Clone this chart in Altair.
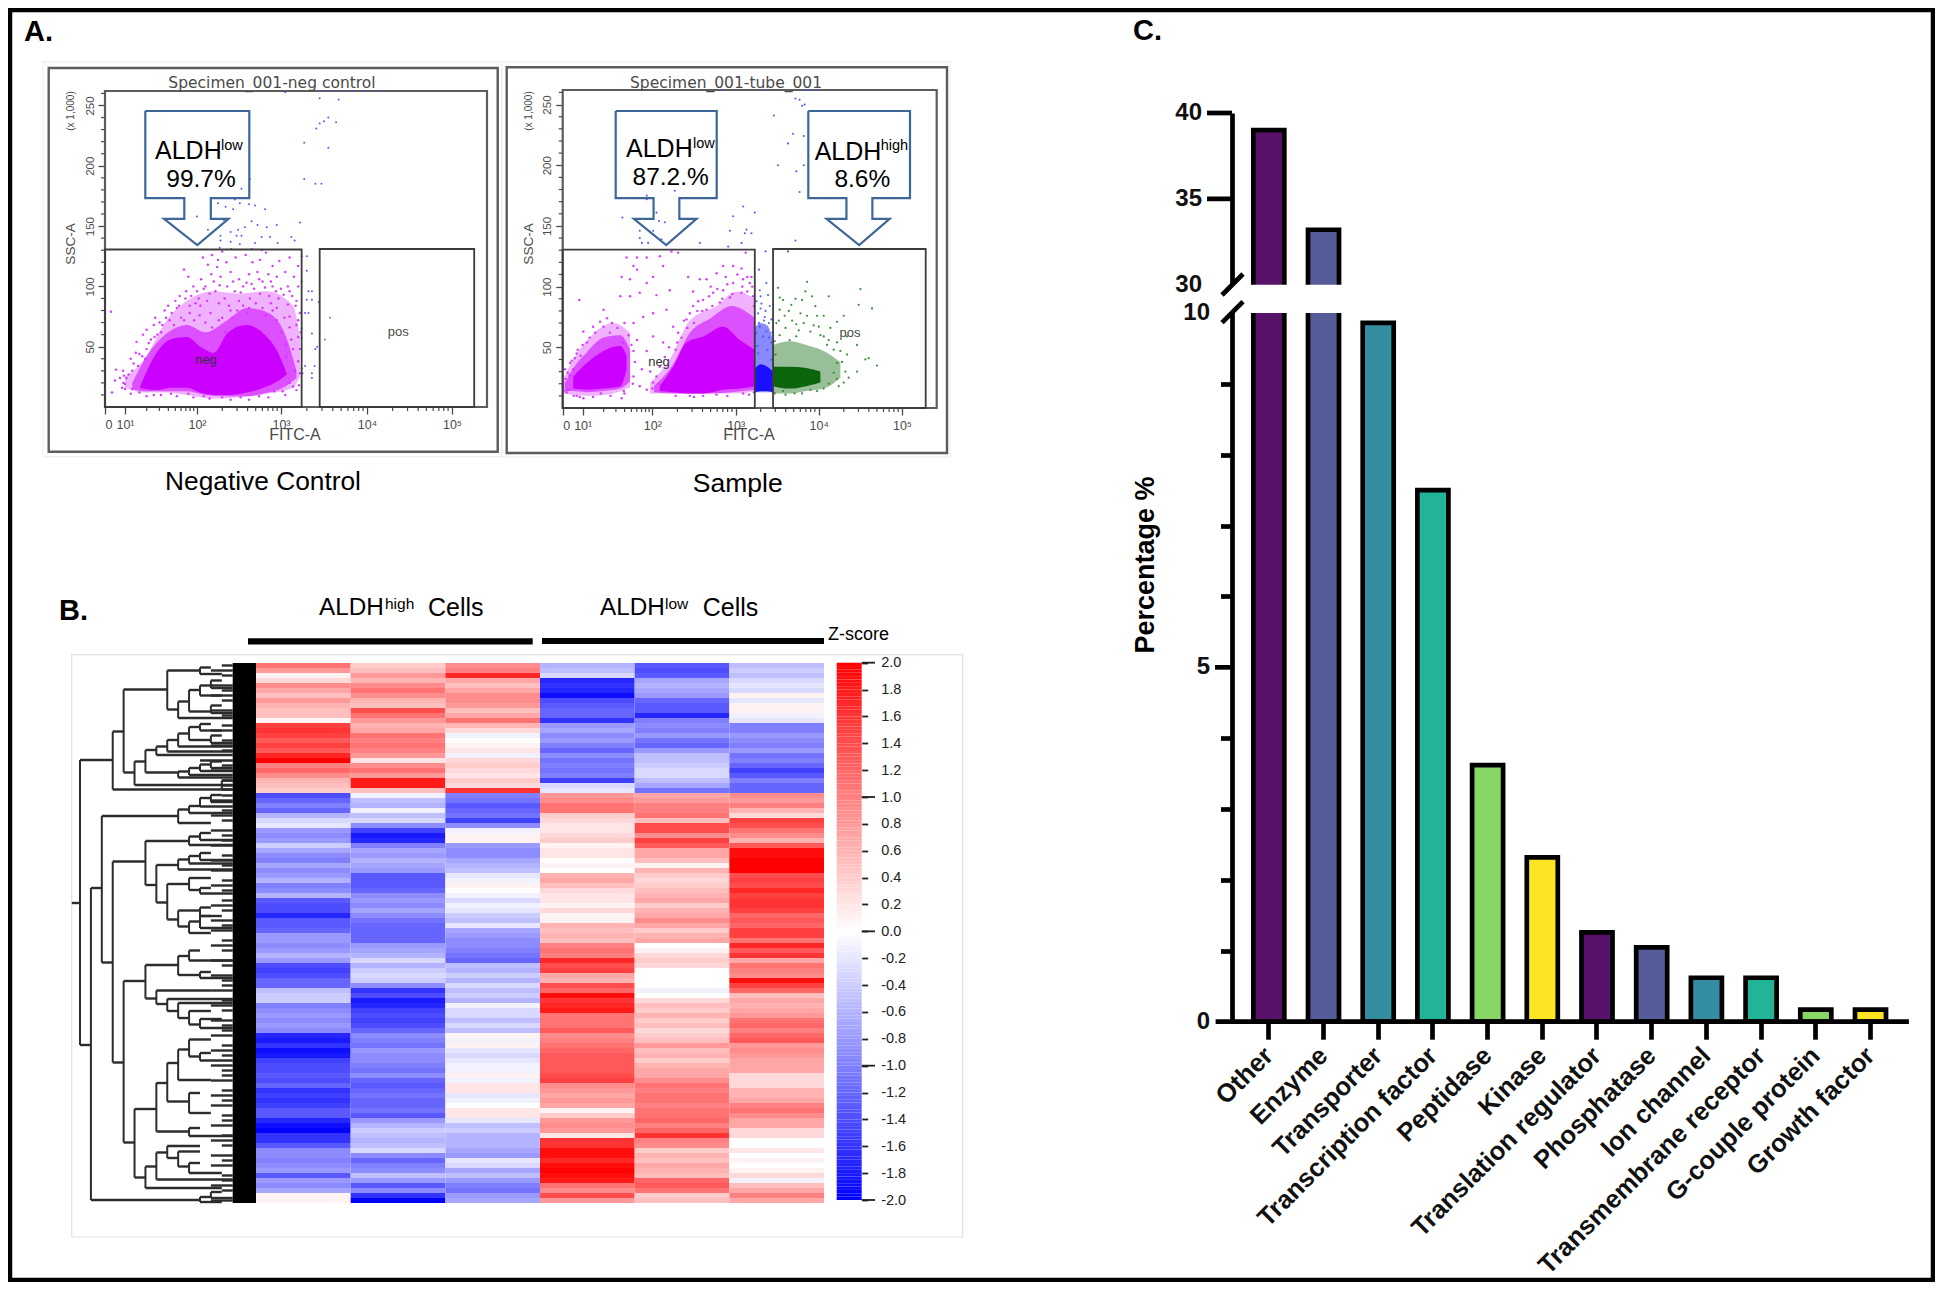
import math
import altair as alt
import pandas as pd

OFF = 8
def px(v):
    return v - OFF

FONT = "Liberation Sans"
WIDE = "DejaVu Sans"

# ---------- Panel A: values (FITC decade, SSC in thousands) ----------
DEC = [0, 1, 2, 3, 4, 5, 5.41]
SSC_DOM = [0, 262]
A1_X_PX = [105, 125, 197, 281, 367, 452, 487]
A2_X_PX = [562.7, 582.7, 652.3, 735.7, 818.7, 902, 936.7]

A1_BLUE = [(3.05,261),(3.45,262),(3.57,262),(3.69,262),(3.84,262),(3.96,262),(4.14,262),(3.67,255),(3.45,256),(3.55,240),(3.5,237),(3.45,235),(3.41,231),(3.64,236),(3.27,219),(3.55,215),(3.27,189),(3.4,185),(3.47,185),(2.63,189),(2.53,181),(2.45,172),(2.51,169),(2.62,168),(2.69,167),(2.81,164),(2.25,169),(2.34,166),(2.43,164),(2.0,158),(3.22,153),(2.95,151),(2.83,149),(2.72,151),(2.65,154),(2.57,149),(2.49,147),(2.32,155),(2.13,147),(2.28,142),(2.4,145),(2.47,142),(2.53,142),(2.77,141),(2.87,141),(3.12,141),(3.16,138),(2.96,136),(2.69,136),(2.28,138),(2.4,137),(2.51,135),(2.27,132),(2.41,131),(2.65,131),(2.77,130),(3.24,125),(3.3,125),(3.24,104),(3.3,113),(3.32,96),(3.36,96),(3.3,89),(3.36,89),(3.44,87),(3.28,78),(3.32,78),(3.24,65),(3.24,57),(3.36,61),(3.42,50),(3.4,48),(3.24,32),(3.28,34),(3.39,34),(3.36,28),(3.36,24),(3.25,28)]
A1_GREEN = [(3.57,74),(3.51,56)]
A1_PINK = [(2.07,124),(2.13,118),(2.18,126),(2.25,122),(2.3,129),(2.24,116),(2.35,120),(2.46,124),(2.58,126),(2.66,120),(2.75,122),(2.82,128),(2.9,117),(2.98,121),(3.1,124),(3.2,117),(3.15,108),(3.05,112),(2.95,108),(2.85,110),(2.72,112),(2.62,110),(2.5,106),(2.4,112),(2.28,108),(2.17,110),(2.05,106),(1.95,100),(1.82,114),(1.88,108),(2.0,96),(2.1,100),(2.22,96),(2.33,90),(2.45,96),(2.55,100),(2.65,102),(2.78,104),(2.9,100),(3.0,98),(3.1,96),(3.2,100),(3.18,88),(3.08,85),(2.97,90),(2.86,92),(2.75,94),(2.63,90),(2.5,88),(2.38,84),(2.26,86),(2.12,88),(1.98,86),(1.84,90),(1.72,82),(1.78,74),(1.9,78),(2.03,76),(2.16,78),(2.3,74),(2.42,74),(1.62,72),(1.52,68),(1.45,60),(1.36,56),(1.3,48),(1.24,42),(1.18,34),(1.1,30),(1.02,24),(0.92,20),(0.85,16),(1.0,15),(1.08,11),(1.3,9),(1.5,10),(1.72,9),(1.95,8),(2.15,7),(2.4,6),(2.62,6),(2.85,8),(3.05,10),(3.18,14),(3.22,28),(3.2,38),(3.14,48),(3.2,58),(3.18,68),(3.1,75),(3.22,78),(0.3,79),(0.55,31),(0.35,12),(0.5,22),(0.75,24),(0.9,30),(1.15,45),(1.25,60),(1.4,68),(1.55,80),(3.0,62),(3.05,52),(2.95,72),(2.6,78),(2.9,80),(2.78,82),(2.48,80)]
A1_PINK2 = [(1.05,27),(1.12,36),(1.2,44),(1.28,40),(1.33,53),(1.41,58),(1.48,70),(1.57,74),(1.65,78),(1.7,88),(1.76,92),(1.85,96),(1.92,92),(2.02,90),(2.08,98),(2.15,94),(2.2,104),(2.27,101),(2.36,100),(2.43,104),(2.52,95),(2.59,103),(2.68,98),(2.74,106),(2.81,99),(2.88,104),(2.94,96),(3.03,93),(3.08,100),(3.13,92),(3.17,84),(3.2,72),(3.23,62),(3.22,48),(3.21,18),(3.14,17),(3.02,13),(2.92,13),(2.74,9),(2.52,8),(2.3,8),(2.08,9),(1.88,11),(1.64,11),(1.4,10),(1.2,12),(1.1,15),(1.0,19),(0.95,26),(1.08,40),(1.16,54),(1.3,64),(1.42,74),(1.5,62),(1.6,84),(1.68,68),(1.75,84),(1.82,72),(1.9,84),(1.96,72),(2.04,84),(2.1,70),(2.18,66),(2.26,72),(2.34,62),(2.4,80),(2.46,66),(2.55,84),(2.62,82),(2.7,86),(2.82,76),(2.88,86),(2.95,82),(3.04,74),(3.1,66),(3.12,56),(3.06,42),(3.16,30),(3.1,20),(3.0,30)]
A1_DENSE_X = [1.21,1.44,1.63,1.86,2.04,2.2,2.36,2.59,2.79,2.95,3.07]
A1_DENSE_TOP = [17,45,56,58,50,45,61,68,61,47,27]
A1_DENSE_BOT = [16,14,16,16,12,10,10,12,16,21,27]
A1_IN_X = [1.1,1.3,1.6,1.86,2.1,2.36,2.6,2.85,3.05,3.18]
A1_IN_TOP = [20,42,62,68,62,72,82,78,60,30]
A1_IN_BOT = [15,13,13,13,10,9,9,12,17,24]
A1_MID_X = [1,1.26,1.58,1.86,2.2,2.51,2.83,3.14,3.22]
A1_MID_TOP = [25,39,72,88,96,94,96,84,58]
A1_MID_BOT = [16,12,12,10,7,8,11,16,25]

A2_BLUE = [(2.83,262),(3.34,262),(3.83,262),(3.89,262),(3.98,262),(3.72,255),(3.77,254),(3.83,250),(3.8,249),(3.46,241),(3.69,226),(3.63,218),(3.82,224),(3.51,200),(3.82,200),(3.73,195),(3.77,178),(3.09,166),(3.23,161),(2.97,158),(1.57,157),(1.92,175),(1.92,172),(2.27,179),(2.05,161),(2.15,153),(2.08,154),(2.01,146),(1.82,146),(2.11,139),(1.82,140),(1.85,136),(1.94,136),(2.93,146),(3.13,147),(3.11,144),(3.19,144),(3.07,136),(2.57,136),(2.91,133),(3.72,138),(3.36,129),(3.28,114),(3.37,103),(3.29,97),(3.39,93),(3.31,86),(3.41,84),(3.27,78),(3.35,75),(3.43,73),(3.29,67),(3.37,63),(3.33,59),(3.43,54),(3.26,51),(3.38,48),(3.25,88),(3.3,92),(3.36,80),(3.4,70),(3.28,70),(3.44,62),(3.25,62),(3.34,72),(3.3,82),(3.4,58),(3.27,45),(3.43,40)]
A2_PINK = [(1.63,124),(1.78,124),(1.92,124),(1.73,117),(1.78,114),(1.56,108),(1.68,106),(2.09,125),(2.23,129),(2.31,128),(2.13,117),(2.01,108),(2.21,97),(2.05,93),(1.92,103),(1.82,95),(1.68,92),(1.54,92),(0.83,89),(1.3,81),(1.15,67),(1.01,63),(1.73,70),(1.87,75),(2.01,78),(2.17,81),(2.25,67),(2.01,59),(1.78,56),(1.92,47),(2.13,54),(2.85,117),(2.97,117),(3.07,115),(2.77,111),(2.65,106),(3.17,103),(3.09,106),(2.97,103),(2.85,97),(2.73,95),(2.61,89),(2.49,84),(2.41,73),(2.31,62),(3.21,92),(3.07,95),(2.93,91),(2.81,87),(2.65,81),(2.57,106),(2.49,96),(2.43,108),(3.12,128),(3.19,108),(0.12,32),(0.03,21),(0.28,15),(0.37,37),(0.7,10),(1.01,8),(1.26,12),(1.56,8),(1.59,14),(1.82,18),(1.92,15),(2.01,21),(1.73,26),(1.85,32),(1.97,30),(2.09,34),(0.53,32),(0.7,45),(1.06,54),(1.3,67),(1.39,62),(1.58,54),(1.73,47),(2.45,10),(2.77,11),(3.09,12),(2.61,10)]
A2_PINK2 = [(0.05,14),(0.15,24),(0.25,29),(0.35,27),(0.45,39),(0.6,41),(0.75,48),(0.9,43),(1.0,52),(1.1,58),(1.18,62),(1.25,71),(1.35,74),(1.42,70),(1.5,66),(1.6,70),(1.66,60),(1.7,52),(1.75,38),(1.72,20),(1.6,12),(1.4,10),(1.15,9),(0.85,9),(0.55,10),(0.2,13),(2.0,16),(2.05,26),(2.15,42),(2.2,50),(2.28,48),(2.35,58),(2.38,72),(2.45,78),(2.5,70),(2.55,88),(2.6,80),(2.68,92),(2.72,84),(2.78,98),(2.84,90),(2.9,102),(2.96,94),(3.02,110),(3.08,100),(3.14,96),(3.2,100),(3.22,84),(3.14,108),(2.88,108),(2.7,100),(2.54,80),(2.42,66),(2.3,54),(2.08,20),(2.28,10),(2.5,9),(2.9,10),(3.16,11),(3.22,13)]
A2_GREEN = [(3.53,91),(3.57,89),(3.63,129),(3.51,99),(3.67,85),(3.8,89),(3.84,96),(3.86,104),(3.92,92),(4.12,92),(4.5,98),(4.64,82),(4.48,85),(4.3,76),(4.22,71),(4.46,52),(4.34,59),(4.56,40),(4.7,35),(4.6,41),(4.46,30),(4.36,25),(4.3,21),(4.24,18),(4.06,16),(3.9,15),(3.71,12),(3.57,14),(3.49,70),(3.59,76),(3.73,69),(3.86,76),(4.0,67),(4.14,66),(4.06,76),(3.96,84),(3.78,78),(3.53,60),(4.06,59),(4.22,54),(4.26,47),(4.22,37),(4.34,44),(4.18,29),(3.53,81),(3.65,56),(3.73,59),(3.9,63),(4.1,52),(3.47,55),(3.48,44),(3.52,72),(3.6,66),(3.68,72),(3.76,64),(3.82,70),(3.94,68),(4.02,60),(4.12,56),(4.18,48),(4.28,38),(4.32,30),(4.22,24),(4.12,20),(3.98,14),(3.8,12),(3.6,11),(3.47,12),(3.64,80),(3.72,90),(3.98,76)]
A2_L_DENSE_X = [0.53,1.06,1.3,1.54,1.63]
A2_L_DENSE_TOP = [26,37,47,51,43]
A2_L_DENSE_BOT = [16,15,16,18,32]
A2_R_DENSE_X = [2.09,2.25,2.41,2.61,2.85,3.05,3.23]
A2_R_DENSE_TOP = [18,34,54,59,67,56,48]
A2_R_DENSE_BOT = [14,13,12,12,15,16,18]
A2_L_IN_X = [0.1,0.5,1.06,1.3,1.54,1.68]
A2_L_IN_TOP = [20,32,46,58,60,48]
A2_L_IN_BOT = [14,14,13,14,16,22]
A2_R_IN_X = [2.02,2.25,2.45,2.7,2.95,3.23]
A2_R_IN_TOP = [18,36,62,74,84,74]
A2_R_IN_BOT = [13,12,12,12,13,15]
A2_L_MID_X = [0,0.53,1.1,1.44,1.68]
A2_L_MID_TOP = [23,40,58,70,62]
A2_L_MID_BOT = [12,11,10,12,17]
A2_R_MID_X = [1.97,2.21,2.45,2.77,3.01,3.23]
A2_R_MID_TOP = [21,40,72,84,96,90]
A2_R_MID_BOT = [12,12,12,12,12,14]
A2_B_X = [3.23,3.3,3.38,3.45]
A2_B_DENSE_TOP = [32,36,34,30]
A2_B_DENSE_BOT = [13,14,14,13]
A2_B_MID_TOP = [66,70,68,56]
A2_B_MID_BOT = [13,13,13,13]
A2_G_DENSE_X = [3.45,3.65,3.85,4.02]
A2_G_DENSE_TOP = [34,34,33,30]
A2_G_DENSE_BOT = [18,16,18,21]
A2_G_MID_X = [3.45,3.65,3.85,4.06,4.26]
A2_G_MID_TOP = [52,55,52,47,38]
A2_G_MID_BOT = [12,12,14,16,25]

ARROW_X = [0,100,100,63,63,80,50,18,37.5,37.5,0,0]
ARROW_Y = [0,0,65,65,80.5,80.5,100,80.5,80.5,65,65,0]

# ---------- Panel B: Z-score in tenths, per row ----------
H1 = [11,8,1,3,9,7,5,8,6,5,5,1,15,16,15,13,15,13,17,20,10,12,9,6,5,4,
      -14,-12,-10,-12,-6,-3,-2,-8,-9,-8,-4,-7,-9,-10,-7,-9,-8,-6,-10,-9,-6,-13,
      -14,-14,-17,-13,-13,-12,-8,-8,-9,-8,-6,-8,
      -14,-15,-14,-12,-12,-5,-4,-4,-10,-9,-8,-9,-8,-9,-17,-18,-16,-19,-18,-15,-14,-14,-13,-14,-12,-16,-15,-16,-15,-13,-13,-17,-19,-20,-16,-16,-13,-9,-9,-10,-9,-8,-13,-8,-9,-7,1,1]
H2 = [4,5,8,6,9,11,9,6,5,14,11,8,6,7,11,10,11,10,8,2,9,11,8,18,18,5,
      -1,-5,-6,-1,-5,-3,-9,-15,-18,-17,-10,-7,-8,-6,-7,-8,-13,-13,-13,-12,-9,-8,
      -9,-7,-9,-11,-12,-12,-12,-12,-8,-7,-6,-3,-6,-4,-3,-4,-9,-16,-14,-18,-17,-15,-14,-15,-14,-12,-9,-10,-11,-8,-9,-9,-10,-11,-9,-12,-13,-12,-11,-12,-12,-11,-13,-8,-6,-4,-5,-6,-5,-3,-9,-12,-10,-9,-5,-8,-13,-9,-16,-20]
H3 = [9,10,17,7,5,7,9,9,8,5,7,11,6,3,-1,0,1,2,-1,3,4,3,2,4,3,16,
      -10,-11,-13,-12,-11,-15,-9,-1,1,1,-8,-9,-9,-7,-6,-5,-2,-1,1,0,-1,-3,
      -1,-2,-4,-5,-2,-7,-8,-9,-9,-10,-11,-12,-5,-6,-4,-6,-3,-5,-4,-6,-1,-3,-3,-5,-3,-5,1,-1,1,-2,-3,-2,-1,-1,1,-1,2,2,-2,-1,0,2,2,-2,-5,-4,-6,-6,-6,-7,-8,-2,-3,-7,-5,-8,-10,-11,-8,-7]
H4 = [-6,-5,-3,-17,-16,-17,-19,-14,-13,-12,-12,-16,-8,-7,-9,-8,-10,-12,-9,-11,-10,-11,-10,-15,-3,-2,
      8,9,11,11,4,3,2,2,3,4,1,2,2,0,1,0,6,7,5,3,2,2,
      1,3,1,1,6,5,6,5,10,11,10,17,14,15,7,6,14,12,19,16,17,18,11,11,11,13,9,10,11,12,13,13,13,13,14,15,9,8,7,8,7,1,4,8,9,8,2,16,16,19,19,17,19,20,19,18,11,9,14,8]
H5 = [-13,-14,-13,-7,-6,-7,-8,-12,-13,-13,-17,-10,-9,-10,-8,-11,-12,-8,-5,-5,-4,-3,-3,-5,-7,-11,
      7,8,10,10,11,5,14,14,9,15,13,7,7,5,1,6,4,3,4,5,6,7,
      4,6,7,9,7,4,6,7,0,1,3,4,3,0,0,0,0,-1,0,3,5,4,6,4,5,3,4,5,8,5,6,4,6,7,7,9,11,10,11,11,10,11,11,12,10,12,16,10,9,4,6,5,7,6,5,12,13,11,4,5]
H6 = [-5,-4,-5,-3,-2,-3,1,-2,1,1,-1,-2,-10,-10,-8,-9,-10,-8,-11,-10,-12,-15,-13,-10,-12,-12,
      9,8,10,6,3,15,14,11,9,6,13,19,19,20,20,20,14,15,14,17,15,16,
      16,15,12,13,12,15,15,11,17,13,16,7,11,10,9,19,15,12,5,7,6,7,8,11,12,10,12,13,8,9,8,7,7,7,3,3,3,6,6,7,10,11,9,7,7,3,3,0,0,2,0,1,0,1,3,-1,5,7,10,7]
HEAT_COLS = [H1, H2, H3, H4, H5, H6]

# dendrogram brackets: level, top row, bottom row, level reached by top arm, by bottom arm
BRACKETS = [(0,19.4,76.4,3,1),(3,13.7,25.3,4,14),(4,5.3,21.9,8,5),(8,1.5,9.3,11,9),(11,0.9,2.2,12,13),(9,7.7,11,10,14),(10,5.4,9.7,11,12),(11,4.5,6.5,12,13),(12,3.5,5.0,13,14),(12,8.5,10,13,14),(5,19.7,24.4,6,14),(6,17.4,21.9,7,9),(7,16.7,18.4,8,14),(8,15.4,17.7,9,14),(9,14.1,16.7,10,14),(10,12.8,15.4,11,12),(11,12.2,13.5,12,13),(12,14.5,16,13,14),(9,21.7,22.9,10,14),(10,21,22.4,11,14),(11,20.3,21.6,12,14),(12,19.7,21,13,14),(13,23.5,25.3,14,14),
(1,45,107.4,2,11),(2,30.6,59.9,9,3),(3,39.7,79.9,6,4),(6,35.6,44.4,10,7),(7,40.4,47.9,9,8),(8,44.2,51.3,10,9),(9,49.5,52.7,11,10),(9,29.3,32,10,12),(10,28.6,30,11,14),(11,27,28.7,12,14),(12,26.4,27.8,13,14),(10,34.7,36.4,11,14),(11,34,35.4,12,14),(9,39.3,41.3,10,14),(10,38.6,40.1,11,14),(11,38,39.4,12,14),(10,43,45.4,12,11),(11,45,46.1,12,14),(11,48.9,50.6,12,13),(10,51.7,54,11,12),(11,50.6,53,12,14),(9,58.6,62.4,10,11),(10,57.5,59.5,11,14),(11,61.8,63,12,14),(4,63.6,95.9,6,5),(6,60.4,67.1,9,7),(7,65.5,68.2,12,8),(8,67.2,69.6,14,9),(9,68,71,14,10),(10,69.6,72.3,12,11),(11,71.2,73,13,14),(5,89.2,102.9,7,6),(7,84,93.7,8,10),(8,80,87.7,9,10),(9,77.3,83.4,10,12),(10,75.3,78.7,12,11),(11,78,79.5,12,14),(10,86,90,11,12),(10,93,94.6,11,14),(6,100.7,105,7,13),(7,97.9,103.3,8,14),(8,96.6,99,11,9),(9,97.7,100.7,11,10),(10,100,102,11,13),(11,106.8,107.8,12,13),(12,105.8,107,13,14)]
LEAF_LEVELS = [13,12,13,14,12,13,12,13,14,12,13,14,13,12,14,13,12,13,14,11,13,12,14,13,13,14,
               13,12,14,13,12,13,14,12,13,13,12,14,13,12,13,12,14,13,12,13,14,13,
               12,13,14,12,13,12,14,13,12,13,14,12,13,14,12,13,13,12,14,13,12,13,14,12,13,13,
               12,14,13,12,13,14,12,13,13,12,14,13,12,13,12,14,13,13,12,14,13,12,13,14,12,13,12,14,13,13,12,13,14,12]
CBAR_TICKS = [2.0,1.8,1.6,1.4,1.2,1.0,0.8,0.6,0.4,0.2,0.0,-0.2,-0.4,-0.6,-0.8,-1.0,-1.2,-1.4,-1.6,-1.8,-2.0]
CBAR_MAJOR = [2.0,1.0,0.0,-1.0,-2.0]

# ---------- Panel C ----------
CATS = ["Other","Enzyme","Transporter","Transcription factor","Peptidase","Kinase",
        "Translation regulator","Phosphatase","Ion channel","Transmembrane receptor",
        "G-couple protein","Growth factor"]
PCT = [39.0,33.2,9.86,7.5,3.62,2.32,1.26,1.05,0.62,0.62,0.17,0.17]
FILLS = ["#58126a","#565b99","#358da1","#21b497","#88d766","#fce525",
         "#58126a","#565b99","#358da1","#21b497","#88d766","#fce525"]
PCT_MINOR = [1,2,3,4,6,7,8,9]
PCT_MAJOR = [35,40]
PCT_LABELS_HI = [40,35,30]
PCT_LABELS_LO = [10,5,0]

# ---------- helpers ----------
def scale(domain, rng):
    return alt.Scale(domain=domain, range=[px(r) for r in rng], nice=False, zero=False)

def text(s, x, y, size=12, weight="normal", align="left", angle=0, color="black", font=FONT):
    return alt.Chart(pd.DataFrame({"t": [s]})).mark_text(
        fontSize=size, fontWeight=weight, align=align, baseline="middle", angle=angle,
        color=color, font=font
    ).encode(x=alt.value(px(x)), y=alt.value(px(y)), text="t:N")

def box(x0, y0, x1, y1, stroke, w):
    m = alt.Chart(pd.DataFrame({"a": [0]})).mark_rect(fillOpacity=0, stroke=stroke, strokeWidth=w)
    return m.encode(x=alt.value(px(x0)), x2=alt.value(px(x1)), y=alt.value(px(y0)), y2=alt.value(px(y1)))

def solid(x0, y0, x1, y1, color):
    return alt.Chart(pd.DataFrame({"a": [0]})).mark_rect(fill=color).encode(
        x=alt.value(px(x0)), x2=alt.value(px(x1)), y=alt.value(px(y0)), y2=alt.value(px(y1)))

def line(x0, y0, x1, y1, color="black", w=2):
    return alt.Chart(pd.DataFrame({"a": [0]})).mark_rule(color=color, strokeWidth=w).encode(
        x=alt.value(px(x0)), x2=alt.value(px(x1)), y=alt.value(px(y0)), y2=alt.value(px(y1)))

def dots(pairs, sx, sy, color, size=5, op=0.95):
    df = pd.DataFrame(pairs, columns=["x", "y"])
    return alt.Chart(df).mark_circle(color=color, size=size, opacity=op).encode(
        x=alt.X("x:Q", scale=sx, axis=None), y=alt.Y("y:Q", scale=sy, axis=None))

def band(xs, top, bot, sx, sy, color, op=1.0):
    df = pd.DataFrame({"x": xs, "t": top, "b": bot})
    return alt.Chart(df).mark_area(color=color, opacity=op, interpolate="monotone").encode(
        x=alt.X("x:Q", scale=sx, axis=None), y=alt.Y("t:Q", scale=sy, axis=None), y2="b:Q")

def hticks(values, sy, x0, x1, color, w):
    return alt.Chart(pd.DataFrame({"v": values})).mark_rule(color=color, strokeWidth=w).encode(
        y=alt.Y("v:Q", scale=sy, axis=None), x=alt.value(px(x0)), x2=alt.value(px(x1)))

def vticks(values, sx, y0, y1, color, w):
    return alt.Chart(pd.DataFrame({"v": values})).mark_rule(color=color, strokeWidth=w).encode(
        x=alt.X("v:Q", scale=sx, axis=None), y=alt.value(px(y0)), y2=alt.value(px(y1)))

def arrow(x0, x1, y0, y1):
    df = pd.DataFrame({"x": ARROW_X, "y": ARROW_Y, "i": range(len(ARROW_X))})
    return alt.Chart(df).mark_line(color="#3d6799", strokeWidth=2.2).encode(
        x=alt.X("x:Q", scale=scale([0, 100], [x0, x1]), axis=None),
        y=alt.Y("y:Q", scale=scale([0, 100], [y0, y1]), axis=None),
        order=alt.Order("i:Q"))

W, H = 1927, 1274
layers = [box(OFF + 2, OFF + 2, OFF + W - 2, OFF + H - 2, "black", 4.5)]

X_MINOR = [d + math.log10(k) for d in range(1, 5) for k in range(2, 10)]
Y_MINOR = [v for v in range(10, 261, 10) if v % 50 != 0]
GREY = "#4a4a4a"

def flow_panel(x_px, y_top, y_bot, outer, faint, title, title_x, fitc_x, ssc_x):
    out = []
    sx = scale(DEC, x_px)
    sy = scale(SSC_DOM, [y_bot, y_top])
    out.append(box(*faint, "#ececec", 1))
    out.append(box(*outer, "#5c5c5c", 2.4))
    out.append(box(x_px[0], y_top, x_px[-1], y_bot, "#5c5c5c", 2.2))
    ax_y = alt.Axis(values=[50, 100, 150, 200, 250], orient="left", offset=-(x_px[0] - OFF), labelAngle=270,
                    labelAlign="center", labelBaseline="bottom", labelFont=FONT, labelFontSize=11.5, labelColor=GREY,
                    tickColor=GREY, tickSize=7, tickWidth=1.3, domain=False, grid=False, title=None, labelPadding=3)
    ax_x = alt.Axis(values=[0, 1, 2, 3, 4, 5], orient="bottom", offset=y_bot - OFF - H,
                    labelExpr="datum.value==0 ? '0' : '10' + ['','¹','²','³','⁴','⁵'][datum.value]",
                    labelFont=FONT, labelFontSize=12.5, labelColor=GREY, tickColor=GREY, tickSize=7, tickWidth=1.3,
                    domain=False, grid=False, title=None, labelPadding=4)
    axis_df = pd.DataFrame({"x": [0, 5], "y": [50, 250]})
    out.append(alt.Chart(axis_df).mark_point(opacity=0).encode(
        x=alt.X("x:Q", scale=sx, axis=ax_x), y=alt.Y("y:Q", scale=sy, axis=ax_y)))
    out.append(hticks(Y_MINOR, sy, x_px[0] - 4, x_px[0], GREY, 1.2))
    out.append(vticks(X_MINOR, sx, y_bot, y_bot + 4, GREY, 1.2))
    out.append(text(title, title_x, 82.5, size=15.5, align="center", color=GREY, font=WIDE))
    out.append(text("SSC-A", ssc_x, 244, size=13.5, align="center", angle=270, color=GREY))
    out.append(text("(x 1,000)", ssc_x, 111, size=10, align="center", angle=270, color=GREY))
    out.append(text("FITC-A", fitc_x, 435, size=16, align="center", color=GREY))
    return out, sx, sy

def gate(d0, d1, top, sx, sy):
    df = pd.DataFrame({"a": [d0], "b": [d1], "c": [0], "d": [top]})
    return alt.Chart(df).mark_rect(fillOpacity=0, stroke="#3c3c3c", strokeWidth=1.8).encode(
        x=alt.X("a:Q", scale=sx, axis=None), x2="b:Q",
        y=alt.Y("c:Q", scale=sy, axis=None), y2="d:Q")

PINK = "#cc00ff"
PINK_DOT = "#d633ff"
BLUE_DOT = "#4a55f0"
GREEN = "#0b660b"

# --- A1
p, sx, sy = flow_panel(A1_X_PX, 91, 407, (48.7, 68, 497.7, 451.7), (43, 62, 501.7, 456.7),
                       "Specimen_001-neg control", 272, 295, 70.7)
layers += p
layers += [band(A1_MID_X, A1_MID_TOP, A1_MID_BOT, sx, sy, PINK, 0.3),
           band(A1_IN_X, A1_IN_TOP, A1_IN_BOT, sx, sy, PINK, 0.55),
           dots(A1_PINK, sx, sy, PINK_DOT, 6),
           dots(A1_PINK2, sx, sy, PINK_DOT, 6),
           dots(A1_BLUE, sx, sy, BLUE_DOT, 4),
           dots(A1_GREEN, sx, sy, "#4aa04a", 4),
           band(A1_DENSE_X, A1_DENSE_TOP, A1_DENSE_BOT, sx, sy, PINK),
           gate(0, 3.24, 130.6, sx, sy), gate(3.45, 5.26, 131, sx, sy),
           text("neg", 206, 360, 13, align="center", color="#333"),
           text("pos", 398.3, 331.7, 13, align="center", color=GREY),
           arrow(145.3, 249.3, 111, 245),
           text("ALDH", 155, 150.5, 25), text("low", 221, 146, 14.5),
           text("99.7%", 201, 180, 24.5, align="center"),
           text("Negative Control", 263, 482, 26.3, align="center")]

# --- A2
p, sx, sy = flow_panel(A2_X_PX, 90, 408, (506.7, 67.3, 947, 453), (502, 62, 950, 457),
                       "Specimen_001-tube_001", 726, 749, 529.3)
layers += p
layers += [band(A2_L_MID_X, A2_L_MID_TOP, A2_L_MID_BOT, sx, sy, PINK, 0.3),
           band(A2_R_MID_X, A2_R_MID_TOP, A2_R_MID_BOT, sx, sy, PINK, 0.3),
           band(A2_L_IN_X, A2_L_IN_TOP, A2_L_IN_BOT, sx, sy, PINK, 0.55),
           band(A2_R_IN_X, A2_R_IN_TOP, A2_R_IN_BOT, sx, sy, PINK, 0.55),
           band(A2_B_X, A2_B_MID_TOP, A2_B_MID_BOT, sx, sy, "#2a2aff", 0.55),
           band(A2_G_MID_X, A2_G_MID_TOP, A2_G_MID_BOT, sx, sy, GREEN, 0.42),
           dots(A2_PINK, sx, sy, PINK_DOT, 6),
           dots(A2_PINK2, sx, sy, PINK_DOT, 6),
           dots(A2_BLUE, sx, sy, BLUE_DOT, 4.5),
           dots(A2_GREEN, sx, sy, "#2f8a2f", 5),
           band(A2_L_DENSE_X, A2_L_DENSE_TOP, A2_L_DENSE_BOT, sx, sy, PINK),
           band(A2_R_DENSE_X, A2_R_DENSE_TOP, A2_R_DENSE_BOT, sx, sy, PINK),
           band(A2_B_X, A2_B_DENSE_TOP, A2_B_DENSE_BOT, sx, sy, "#1a10ff"),
           band(A2_G_DENSE_X, A2_G_DENSE_TOP, A2_G_DENSE_BOT, sx, sy, GREEN),
           gate(0, 3.23, 130.5, sx, sy), gate(3.45, 5.28, 131, sx, sy),
           text("neg", 659, 361.7, 13, align="center", color="#333"),
           text("pos", 850, 332.7, 13, align="center", color=GREY),
           arrow(615.7, 716.7, 111, 245), arrow(808.3, 910, 111, 245),
           text("ALDH", 626, 149, 25), text("low", 693, 144, 14.5),
           text("87.2.%", 670.7, 177.7, 24.5, align="center"),
           text("ALDH", 814.7, 151.5, 25), text("high", 880.7, 146, 14.5),
           text("8.6%", 862.3, 180, 24.5, align="center"),
           text("Sample", 737.7, 484, 26.5, align="center")]

# --- B
layers += [box(71.7, 654.7, 962.7, 1237, "#e2e2e2", 1.2)]
row_s = scale([0, 108], [663, 1203])
col_s = scale([0, 6], [256, 824])
lvl_s = scale([0, 14], [80, 232.7])
zscale = alt.Scale(domain=[-2, 0, 2], range=["#0000ff", "#ffffff", "#ff0000"], interpolate="rgb")
heat_rows = []
for c, col in enumerate(HEAT_COLS):
    for r, v in enumerate(col):
        heat_rows.append({"c": c, "c2": c + 1, "r": r, "r2": r + 1, "z": v / 10})
layers.append(alt.Chart(pd.DataFrame(heat_rows)).mark_rect().encode(
    x=alt.X("c:Q", scale=col_s, axis=None), x2="c2:Q",
    y=alt.Y("r:Q", scale=row_s, axis=None), y2="r2:Q",
    color=alt.Color("z:Q", scale=zscale, legend=None)))

vseg, hseg = [], []
for lv, t, b, lt, lb in BRACKETS:
    vseg.append({"l": lv, "a": t, "b": b})
    hseg.append({"l": lv, "l2": lt, "r": t})
    hseg.append({"l": lv, "l2": lb, "r": b})
hseg.append({"l": -0.75, "l2": 0, "r": 48})
for r, lv in enumerate(LEAF_LEVELS):
    hseg.append({"l": lv, "l2": 14, "r": r + 0.5})
layers.append(alt.Chart(pd.DataFrame(vseg)).mark_rule(color="#2c2c2c", strokeWidth=2).encode(
    x=alt.X("l:Q", scale=lvl_s, axis=None), y=alt.Y("a:Q", scale=row_s, axis=None), y2="b:Q"))
layers.append(alt.Chart(pd.DataFrame(hseg)).mark_rule(color="#2c2c2c", strokeWidth=2.4).encode(
    x=alt.X("l:Q", scale=lvl_s, axis=None), x2="l2:Q", y=alt.Y("r:Q", scale=row_s, axis=None)))
layers.append(solid(232.7, 663, 256, 1203, "black"))

layers += [solid(248, 638.3, 532.7, 644.5, "black"), solid(542, 638, 824, 644, "black"),
           text("ALDH", 319, 608, 24.3), text("high", 385, 604, 15.5), text("Cells", 428, 608, 25),
           text("ALDH", 600, 608, 24.3), text("low", 665, 604, 15.5), text("Cells", 702.7, 608, 25),
           text("Z-score", 828, 635, 18),
           text("A.", 24, 32, 29, "bold"), text("B.", 59, 611, 29, "bold"), text("C.", 1133, 31, 29, "bold")]

cb_s = scale([-2, 2], [1200, 662.7])
cb_rows = []
for i in range(160):
    lo = -2 + i * 0.025
    cb_rows.append({"a": lo, "b": lo + 0.025, "z": lo + 0.0125})
layers.append(alt.Chart(pd.DataFrame(cb_rows)).mark_rect().encode(
    y=alt.Y("a:Q", scale=cb_s, axis=alt.Axis(
        values=CBAR_TICKS, orient="right", offset=861.7 - OFF - W,
        labelExpr="replace(format(datum.value,'.1f'),'\u2212','-')", tickSize=6, tickWidth=1.8,
        tickColor="#222", domain=False, grid=False, title=None, labelFont=FONT, labelFontSize=14.5,
        labelColor="#222", labelPadding=13, labelOverlap=False)),
    y2="b:Q",
    x=alt.value(px(836.7)), x2=alt.value(px(861.7)),
    color=alt.Color("z:Q", scale=zscale, legend=None)))
layers.append(hticks(CBAR_MAJOR, cb_s, 861.7, 875, "#222", 1.8))

# --- C
pct_s = scale([0, 10, 30, 40], [1021.7, 313, 284.7, 113])
cat_s = alt.Scale(domain=CATS, range=[px(1241.45), px(1897.85)], paddingInner=0.433, paddingOuter=0.2166)
bar_df = pd.DataFrame({"cat": CATS, "v": PCT, "f": FILLS})
layers.append(alt.Chart(bar_df).mark_bar(stroke="black", strokeWidth=4.7).encode(
    x=alt.X("cat:N", scale=cat_s, sort=CATS, axis=alt.Axis(
        orient="bottom", offset=1021.7 - OFF - H, labelAngle=-45, labelAlign="right", labelBaseline="middle",
        labelFont=FONT, labelFontSize=25.7, labelFontWeight="bold", labelColor="#111", labelPadding=12,
        tickColor="black", tickSize=17.5, tickWidth=4.7, domain=False, grid=False, title=None, labelOverlap=False,
        labelLimit=500)),
    y=alt.Y("v:Q", scale=pct_s, axis=alt.Axis(
        values=PCT_MINOR, orient="left", offset=-(1232 - OFF), labels=False, tickColor="black", tickSize=11.5,
        tickWidth=4.7, domainColor="black", domainWidth=4.7, grid=False, title=None)),
    fill=alt.Fill("f:N", scale=None)))
layers.append(alt.Chart(pd.DataFrame({"a": [10], "b": [30]})).mark_rect(fill="white").encode(
    y=alt.Y("a:Q", scale=pct_s, axis=None), y2="b:Q", x=alt.value(px(1205)), x2=alt.value(px(1905))))
layers.append(hticks(PCT_MAJOR, pct_s, 1207, 1232, "black", 4.7))
layers.append(hticks([5], pct_s, 1215, 1232, "black", 4.7))
layers.append(line(1215.6, 1021.7, 1908.9, 1021.7, "black", 4.7))
layers.append(line(1222, 295, 1243, 274, "black", 4.7))
layers.append(line(1222, 322.7, 1243, 301.7, "black", 4.7))
layers.append(alt.Chart(pd.DataFrame({"v": PCT_LABELS_HI})).mark_text(
    font=FONT, fontSize=24, fontWeight="bold", align="right", baseline="middle", color="#111"
).encode(y=alt.Y("v:Q", scale=pct_s, axis=None), x=alt.value(px(1202)), text="v:N"))
layers.append(alt.Chart(pd.DataFrame({"v": PCT_LABELS_LO})).mark_text(
    font=FONT, fontSize=24, fontWeight="bold", align="right", baseline="middle", color="#111"
).encode(y=alt.Y("v:Q", scale=pct_s, axis=None), x=alt.value(px(1210)), text="v:N"))
layers.append(text("Percentage %", 1146, 565, 27, "bold", align="center", angle=270))

chart = alt.layer(*layers).resolve_scale(x="independent", y="independent", color="independent").properties(
    width=W, height=H, padding=0, autosize=alt.AutoSizeParams(type="none"), background="white"
).configure_view(stroke=None)

chart.save("out.html", embed_options={"renderer": "svg", "actions": False})
